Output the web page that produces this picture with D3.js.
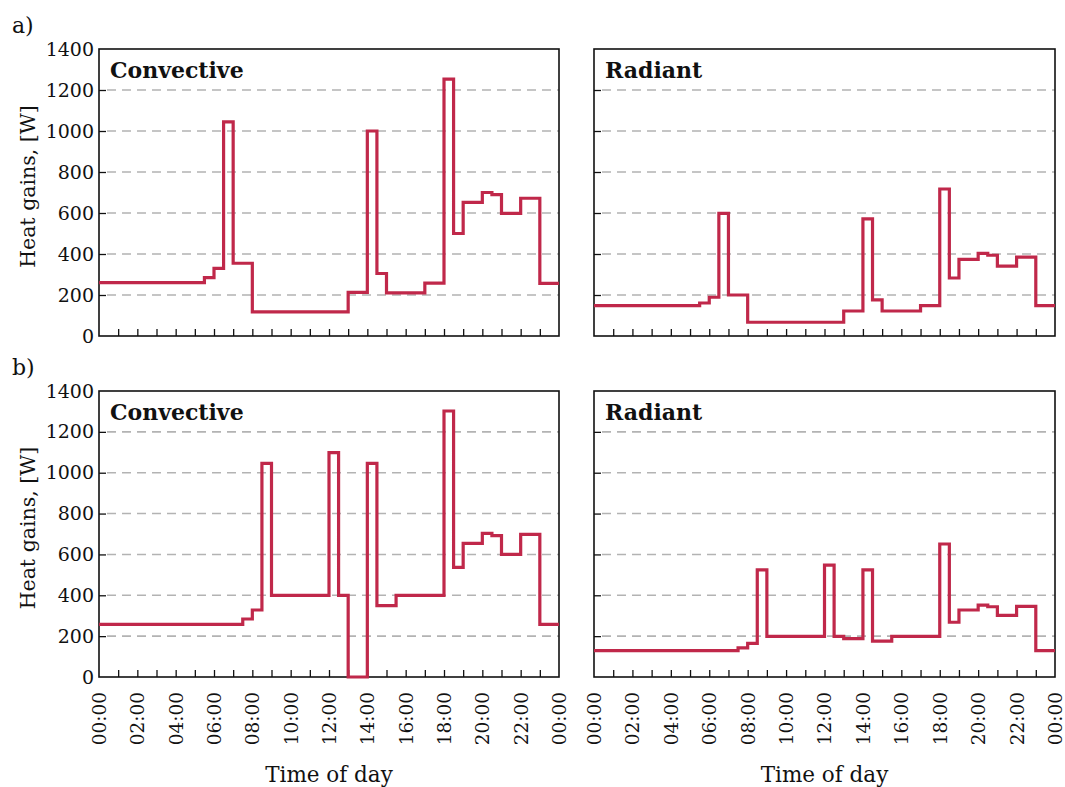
<!DOCTYPE html>
<html>
<head>
<meta charset="utf-8">
<script src="https://cdn.jsdelivr.net/npm/d3@7"></script>
<style>
  body { margin: 0; background: #fff; }
  text { font-family: "DejaVu Serif", serif; fill: #111; }
</style>
</head>
<body>
<svg id="chart" width="1065" height="787"></svg>
<script>
// Step boundaries (hour of day) and heat gains [W] for each half-hourly profile
const stepHoursA = [0, 5.5, 6, 6.5, 7, 8, 13, 14, 14.5, 15, 17, 18, 18.5, 19, 20, 20.5, 21, 22, 23, 24];
const convectiveA = [260, 285, 330, 1045, 355, 118, 213, 1000, 305, 210, 258, 1253, 500, 652, 700, 690, 598, 672, 257];
const radiantA = [148, 161, 189, 598, 200, 67, 122, 571, 176, 122, 148, 717, 283, 374, 403, 394, 341, 385, 148];

const stepHoursB = [0, 7.5, 8, 8.5, 9, 12, 12.5, 13, 14, 14.5, 15.5, 18, 18.5, 19, 20, 20.5, 21, 22, 23, 24];
const convectiveB = [258, 284, 328, 1046, 400, 1098, 400, 0, 1046, 349, 400, 1302, 537, 654, 703, 692, 600, 698, 258];
const radiantB = [129, 143, 165, 524, 199, 548, 199, 188, 524, 176, 199, 651, 268, 328, 352, 344, 302, 346, 129];

const yTickValues = [0, 200, 400, 600, 800, 1000, 1200, 1400];
const gridValues = [200, 400, 600, 800, 1000, 1200];
const timeTickHours = [0, 2, 4, 6, 8, 10, 12, 14, 16, 18, 20, 22, 24];
const timeTickLabels = ["00:00", "02:00", "04:00", "06:00", "08:00", "10:00", "12:00",
                        "14:00", "16:00", "18:00", "20:00", "22:00", "00:00"];
const rowLabels = ["a)", "b)"];
const panelTitles = ["Convective", "Radiant"];

const svg = d3.select("#chart");
const lineColor = "#c0284a";

const cols = [{ x0: 99, x1: 559 }, { x0: 594, x1: 1055 }];
const rows = [{ y0: 49, y1: 336 }, { y0: 391, y1: 677 }];

const panels = [
  { r: 0, c: 0, hours: stepHoursA, values: convectiveA },
  { r: 0, c: 1, hours: stepHoursA, values: radiantA },
  { r: 1, c: 0, hours: stepHoursB, values: convectiveB },
  { r: 1, c: 1, hours: stepHoursB, values: radiantB }
];

panels.forEach(p => {
  const col = cols[p.c], row = rows[p.r];
  const x = d3.scaleLinear().domain([0, 24]).range([col.x0, col.x1]);
  const y = d3.scaleLinear().domain([0, 1400]).range([row.y1, row.y0]);
  const g = svg.append("g");

  // dashed horizontal grid
  g.selectAll("line.grid").data(gridValues).join("line")
    .attr("class", "grid")
    .attr("x1", col.x0 + 8).attr("x2", col.x1)
    .attr("y1", d => y(d)).attr("y2", d => y(d))
    .attr("stroke", "#b3b3b3").attr("stroke-width", 1.6)
    .attr("stroke-dasharray", "9,6");

  // inward hourly ticks along the bottom
  const xAxisTicks = d3.axisTop(x).tickValues(d3.range(1, 24)).tickSize(7).tickFormat("");
  g.append("g").attr("transform", `translate(0,${row.y1})`).call(xAxisTicks)
    .call(a => a.select(".domain").remove())
    .call(a => a.selectAll("line").attr("stroke", "#111").attr("stroke-width", 1.3));

  // inward value ticks along the left side
  const yAxisTicks = d3.axisRight(y).tickValues(gridValues).tickSize(7).tickFormat("");
  g.append("g").attr("transform", `translate(${col.x0},0)`).call(yAxisTicks)
    .call(a => a.select(".domain").remove())
    .call(a => a.selectAll("line").attr("stroke", "#111").attr("stroke-width", 1.3));

  // y labels on the left-hand panels
  if (p.c === 0) {
    const yAxis = d3.axisLeft(y).tickValues(yTickValues).tickSize(0).tickPadding(5)
      .tickFormat(d3.format("d"));
    g.append("g").attr("transform", `translate(${col.x0},0)`).call(yAxis)
      .call(a => a.select(".domain").remove())
      .call(a => a.selectAll("text").attr("font-family", "DejaVu Serif, serif")
        .attr("font-size", 19).attr("fill", "#222"));
  }

  // time labels on the bottom row
  if (p.r === 1) {
    const xAxis = d3.axisBottom(x).tickValues(timeTickHours).tickSize(0)
      .tickFormat((d, i) => timeTickLabels[i]);
    g.append("g").attr("transform", `translate(0,${row.y1})`).call(xAxis)
      .call(a => a.select(".domain").remove())
      .call(a => a.selectAll("text")
        .attr("font-family", "DejaVu Serif, serif").attr("font-size", 18.5)
        .attr("fill", "#222")
        .attr("text-anchor", "end")
        .attr("transform", "rotate(-90)")
        .attr("x", -15).attr("y", 0).attr("dy", "0.35em"));
    g.append("text")
      .attr("x", (col.x0 + col.x1) / 2).attr("y", 782)
      .attr("text-anchor", "middle").attr("font-size", 21.5)
      .text("Time of day");
  }

  // panel frame
  g.append("rect")
    .attr("x", col.x0).attr("y", row.y0)
    .attr("width", col.x1 - col.x0).attr("height", row.y1 - row.y0)
    .attr("fill", "none").attr("stroke", "#111").attr("stroke-width", 1.6);

  // panel title
  g.append("text")
    .attr("x", col.x0 + 11).attr("y", row.y0 + 29)
    .attr("font-size", 22).attr("font-weight", "bold")
    .text(panelTitles[p.c]);

  // stepped heat gain profile
  const pts = p.hours.map((h, i) => ({ h, v: p.values[Math.min(i, p.values.length - 1)] }));
  const line = d3.line().x(d => x(d.h)).y(d => y(d.v)).curve(d3.curveStepAfter);
  g.append("path").datum(pts)
    .attr("d", line)
    .attr("fill", "none").attr("stroke", lineColor)
    .attr("stroke-width", 3.2).attr("stroke-linejoin", "miter");
});

// row labels and y titles
rows.forEach((row, i) => {
  svg.append("text").attr("x", 12).attr("y", row.y0 - 16)
    .attr("font-size", 22).text(rowLabels[i]);
  svg.append("text")
    .attr("transform", `translate(35,${(row.y0 + row.y1) / 2 - 6}) rotate(-90)`)
    .attr("text-anchor", "middle").attr("font-size", 20.5)
    .text("Heat gains, [W]");
});
</script>
</body>
</html>
